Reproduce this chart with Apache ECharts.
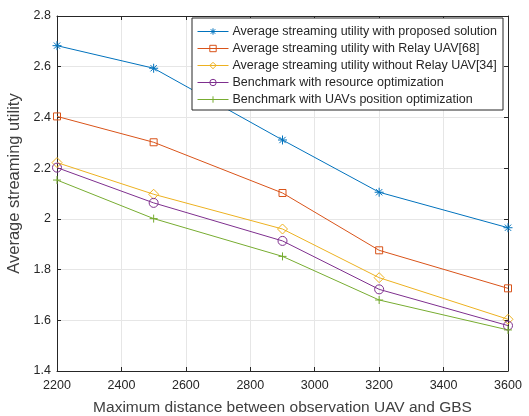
<!DOCTYPE html>
<html>
<head>
<meta charset="utf-8">
<script src="https://cdn.jsdelivr.net/npm/echarts@6/dist/echarts.min.js"></script>
<style>
  html, body { margin: 0; padding: 0; background: #fff; }
  #chart { width: 529px; height: 416px; }
</style>
</head>
<body>
<div id="chart"></div>
<script>
var distances = [2200, 2500, 2900, 3200, 3600];
var proposed = [2.683, 2.594, 2.311, 2.105, 1.965];
var relayUav = [2.404, 2.302, 2.102, 1.876, 1.726];
var noRelay = [2.222, 2.097, 1.960, 1.768, 1.604];
var resourceOpt = [2.202, 2.063, 1.913, 1.722, 1.579];
var positionOpt = [2.153, 2.001, 1.852, 1.680, 1.562];
var seriesNames = [
    'Average streaming utility with proposed solution',
    'Average streaming utility with Relay UAV[68]',
    'Average streaming utility without Relay UAV[34]',
    'Benchmark with resource optimization',
    'Benchmark with UAVs position optimization'
];

var colors = ['#0072BD', '#D95319', '#EDB120', '#7E2F8E', '#77AC30'];
var symbols = [
    'path://M0,-5L0,5M-5,0L5,0M-3.5,-3.5L3.5,3.5M-3.5,3.5L3.5,-3.5',
    'rect',
    'path://M0,-5L5,0L0,5L-5,0Z',
    'circle',
    'path://M0,-5L0,5M-5,0L5,0'
];
var sizes = [9, 7, 10, 9, 8];
var allData = [proposed, relayUav, noRelay, resourceOpt, positionOpt];

function pairs(vals) {
    var out = [];
    for (var i = 0; i < vals.length; i++) {
        out.push([distances[i], vals[i]]);
    }
    return out;
}

var series = [];
var legendData = [];
for (var k = 0; k < allData.length; k++) {
    series.push({
        name: seriesNames[k],
        type: 'line',
        data: pairs(allData[k]),
        symbol: symbols[k],
        symbolSize: sizes[k],
        showAllSymbol: true,
        lineStyle: { width: 1, color: colors[k] },
        itemStyle: { color: 'rgba(255,255,255,0)', borderColor: colors[k], borderWidth: 1 }
    });
    legendData.push({
        name: seriesNames[k],
        itemStyle: { color: 'rgba(255,255,255,0)', borderColor: colors[k], borderWidth: 1 },
        lineStyle: { color: colors[k], width: 1 }
    });
}

var textColor = '#404040';
var axisCol = '#262626';

var mychart = echarts.init(document.getElementById('chart'));
mychart.setOption({
    animation: false,
    grid: { left: 57, right: 21, top: 16, bottom: 45, outerBoundsMode: 'none', containLabel: false },
    legend: {
        orient: 'vertical',
        right: 26,
        top: 18,
        padding: [7, 6, 4, 5],
        itemWidth: 31,
        itemHeight: 8,
        itemGap: 4,
        backgroundColor: '#fff',
        borderColor: '#262626',
        borderWidth: 1,
        textStyle: { fontFamily: 'Liberation Sans', fontSize: 12.5, lineHeight: 13, color: '#262626', padding: [0, 0, 0, -1] },
        data: legendData
    },
    xAxis: [{
        type: 'value',
        min: 2200, max: 3600, interval: 200,
        name: 'Maximum distance between observation UAV and GBS',
        nameLocation: 'middle',
        nameGap: 29,
        nameTextStyle: { fontFamily: 'Liberation Sans', fontSize: 15.5, color: textColor },
        axisLine: { show: true, lineStyle: { color: axisCol } },
        axisTick: { inside: true, length: 4, lineStyle: { color: axisCol } },
        axisLabel: {
            fontFamily: 'Liberation Sans', fontSize: 12.5, color: axisCol, margin: 8,
            formatter: function (v) { return String(v); }
        },
        splitLine: { show: true, lineStyle: { color: '#e6e6e6' } }
    }, {
        type: 'value', position: 'top',
        min: 2200, max: 3600, interval: 200,
        axisLine: { show: true, lineStyle: { color: axisCol } },
        axisTick: { inside: true, length: 4, lineStyle: { color: axisCol } },
        axisLabel: { show: false },
        splitLine: { show: false }
    }],
    yAxis: [{
        type: 'value',
        min: 1.4, max: 2.8, interval: 0.2,
        name: 'Average streaming utility',
        nameLocation: 'middle',
        nameGap: 27,
        nameTextStyle: { fontFamily: 'Liberation Sans', fontSize: 16.5, color: textColor, padding: [0, 0, 0, 20] },
        axisLine: { show: true, lineStyle: { color: axisCol } },
        axisTick: { inside: true, length: 4, lineStyle: { color: axisCol } },
        axisLabel: {
            fontFamily: 'Liberation Sans', fontSize: 12.5, color: axisCol, margin: 6,
            formatter: function (v) { return String(Math.round(v * 10) / 10); }
        },
        splitLine: { show: true, lineStyle: { color: '#e6e6e6' } }
    }, {
        type: 'value', position: 'right',
        min: 1.4, max: 2.8, interval: 0.2,
        axisLine: { show: true, lineStyle: { color: axisCol } },
        axisTick: { inside: true, length: 4, lineStyle: { color: axisCol } },
        axisLabel: { show: false },
        splitLine: { show: false }
    }],
    series: series
});
</script>
</body>
</html>
